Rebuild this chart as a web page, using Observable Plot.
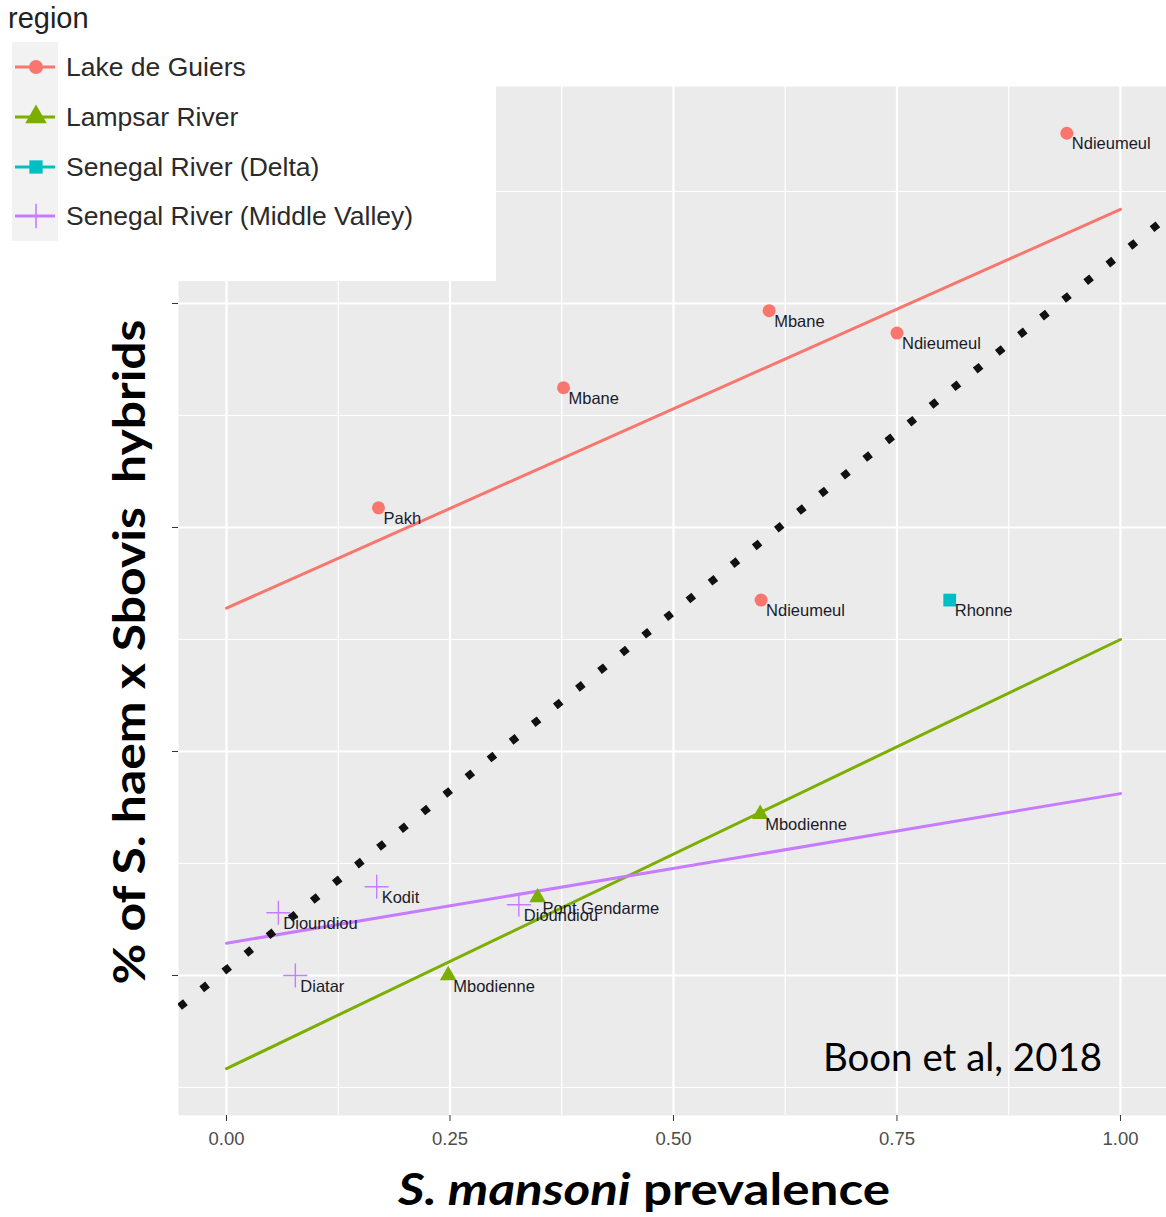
<!DOCTYPE html>
<html>
<head>
<meta charset="utf-8">
<script src="https://cdn.jsdelivr.net/npm/d3@7"></script>
<script src="https://cdn.jsdelivr.net/npm/@observablehq/plot@0.6"></script>
<style>
  html, body { margin: 0; padding: 0; background: white; }
  #wrap { position: relative; width: 1166px; height: 1217px; overflow: hidden; }
  #wrap svg.overlay { position: absolute; left: 0; top: 0; pointer-events: none; }
</style>
</head>
<body>
<div id="wrap"></div>
<script>
// ---- data ----
const regions = ["Lake de Guiers", "Lampsar River", "Senegal River (Delta)", "Senegal River (Middle Valley)"];
const regionColors = ["#F8766D", "#7CAE00", "#00BFC4", "#C77CFF"];
const regionSymbols = ["circle", "triangle", "square", "plus"];

const siteNames  = ["Pakh", "Mbane", "Mbane", "Ndieumeul", "Ndieumeul", "Ndieumeul",
                    "Mbodienne", "Pont Gendarme", "Mbodienne",
                    "Rhonne",
                    "Dioundiou", "Diatar", "Kodit", "Dioundiou"];
const siteRegion = [0, 0, 0, 0, 0, 0, 1, 1, 1, 2, 3, 3, 3, 3];
const siteX      = [0.17, 0.377, 0.607, 0.75, 0.94, 0.598, 0.248, 0.348, 0.597, 0.809, 0.058, 0.077, 0.168, 0.327];
const siteY      = [0.522, 0.656, 0.742, 0.717, 0.940, 0.419, 0.0, 0.087, 0.18, 0.419, 0.070, 0.0, 0.099, 0.079];

// fitted lines, at x = 0 and x = 1
const fitRegion = [0, 1, 3];
const fitX0 = [0, 0, 0];
const fitX1 = [1, 1, 1];
const fitY0 = [0.410, -0.104, 0.036];
const fitY1 = [0.855, 0.375, 0.203];

// dotted reference line endpoints
const refX = [-0.0537, 1.0515];
const refY = [-0.036, 0.846];

const xTicks = [0, 0.25, 0.5, 0.75, 1];
const xMinor = [0.125, 0.375, 0.625, 0.875];
const yTicks = [0, 0.25, 0.5, 0.75];
const yMinor = [-0.125, 0.125, 0.375, 0.625, 0.875];

// ---- tables ----
const sites = siteNames.map((n, i) => ({name: n, region: regions[siteRegion[i]], x: siteX[i], y: siteY[i]}));
const fits = [];
fitRegion.forEach((r, i) => {
  fits.push({region: regions[r], x: fitX0[i], y: fitY0[i]});
  fits.push({region: regions[r], x: fitX1[i], y: fitY1[i]});
});
const ref = refX.map((x, i) => ({x, y: refY[i]}));

const colorScale = {domain: regions, range: regionColors};

const dotMarks = regions.map((reg, i) => {
  const sym = regionSymbols[i];
  const data = sites.filter(d => d.region === reg);
  const r = sym === "circle" ? 6.5 : sym === "triangle" ? 6.2 : sym === "square" ? 7.2 : 7.8;
  if (sym === "plus") {
    return Plot.dot(data, {x: "x", y: "y", symbol: () => sym, r, stroke: regionColors[i], strokeWidth: 1.4, fill: "none"});
  }
  return Plot.dot(data, {x: "x", y: "y", symbol: () => sym, r, fill: regionColors[i], stroke: "none"});
});

const chart = Plot.plot({
  width: 1166,
  height: 1217,
  marginLeft: 178,
  marginRight: 0,
  marginTop: 86,
  marginBottom: 102,
  style: {fontFamily: "'Liberation Sans', Arial, sans-serif", background: "white"},
  x: {domain: [-0.0537, 1.0515]},
  y: {domain: [-0.15625, 0.9922]},
  symbol: {domain: regionSymbols, range: regionSymbols},
  marks: [
    Plot.frame({fill: "#EBEBEB", stroke: "none"}),
    Plot.ruleX(xMinor, {stroke: "white", strokeWidth: 1.2}),
    Plot.ruleY(yMinor, {stroke: "white", strokeWidth: 1.2}),
    Plot.ruleX(xTicks, {stroke: "white", strokeWidth: 2.2}),
    Plot.ruleY(yTicks, {stroke: "white", strokeWidth: 2.2}),
    Plot.axisX({ticks: xTicks, tickFormat: d3.format(".2f"), tickSize: 6, tickPadding: 10,
                stroke: "#333", fill: "#4d4d4d", fontSize: 18.5, label: null}),
    Plot.axisY({ticks: yTicks, tickFormat: () => "", tickSize: 6, stroke: "#333", label: null}),
    Plot.line(fits, {x: "x", y: "y", z: "region", stroke: "region", strokeWidth: 3}),
    Plot.line(ref, {x: "x", y: "y", stroke: "#111", strokeWidth: 7.5, strokeDasharray: "7.5 20.8",
                    strokeDashoffset: -1.4, strokeLinecap: "butt", clip: true}),
    ...dotMarks,
    Plot.text(sites, {x: "x", y: "y", text: "name", textAnchor: "start", lineAnchor: "top",
                      dx: 5, dy: 4.5, fontSize: 16.5, fill: "#1a1a2a"})
  ],
  color: colorScale
});
document.getElementById("wrap").appendChild(chart);

// ---- overlay: legend box and titles ----
const ov = d3.select("#wrap").append("svg")
  .attr("class", "overlay")
  .attr("width", 1166).attr("height", 1217)
  .style("font-family", "'Liberation Sans', Arial, sans-serif");

ov.append("rect").attr("x", 0).attr("y", 0).attr("width", 496).attr("height", 281).attr("fill", "white");
ov.append("text").attr("x", 8).attr("y", 28).attr("font-size", 29).attr("fill", "#222").text("region");

const rowY = [67, 117, 167, 216];
regions.forEach((reg, i) => {
  const cy = rowY[i];
  const g = ov.append("g");
  g.append("rect").attr("x", 12).attr("y", cy - 25).attr("width", 46).attr("height", 50).attr("fill", "#F2F2F2");
  g.append("line").attr("x1", 15).attr("x2", 55).attr("y1", cy).attr("y2", cy)
    .attr("stroke", regionColors[i]).attr("stroke-width", 3);
  const sym = regionSymbols[i];
  if (sym === "plus") {
    g.append("path").attr("transform", `translate(36,${cy})`)
      .attr("d", d3.symbol(d3.symbolPlus, Math.PI * 8 * 8)())
      .attr("fill", "none").attr("stroke", regionColors[i]).attr("stroke-width", 1.6);
  } else {
    const t = sym === "circle" ? d3.symbolCircle : sym === "triangle" ? d3.symbolTriangle : d3.symbolSquare;
    const r = sym === "circle" ? 7 : sym === "triangle" ? 8 : 7.5;
    g.append("path").attr("transform", `translate(36,${cy})`)
      .attr("d", d3.symbol(t, Math.PI * r * r)())
      .attr("fill", regionColors[i]);
  }
  g.append("text").attr("x", 66).attr("y", cy + 9).attr("font-size", 26.5).attr("fill", "#2a2a2a")
    .text(reg);
});

// y-axis title
ov.append("text")
  .attr("transform", "translate(145,652) rotate(-90)")
  .attr("text-anchor", "middle")
  .attr("font-family", "Lato, 'Open Sans', sans-serif")
  .attr("font-weight", "bold")
  .attr("font-size", 44)
  .attr("fill", "black")
  .attr("textLength", 665).attr("lengthAdjust", "spacingAndGlyphs")
  .style("white-space", "pre")
  .text("% of S. haem x Sbovis  hybrids");

// x-axis title
const xt = ov.append("text")
  .attr("x", 644).attr("y", 1205)
  .attr("text-anchor", "middle")
  .attr("font-family", "Lato, 'Open Sans', sans-serif")
  .attr("font-weight", "bold")
  .attr("font-size", 44)
  .attr("fill", "black")
  .attr("textLength", 492).attr("lengthAdjust", "spacingAndGlyphs");
xt.append("tspan").attr("font-style", "italic").text("S. mansoni");
xt.append("tspan").text(" prevalence");

// citation
ov.append("text")
  .attr("x", 823).attr("y", 1071)
  .attr("font-family", "Lato, 'Open Sans', sans-serif")
  .attr("font-size", 38)
  .attr("fill", "black")
  .attr("textLength", 279).attr("lengthAdjust", "spacingAndGlyphs")
  .text("Boon et al, 2018");
</script>
</body>
</html>
